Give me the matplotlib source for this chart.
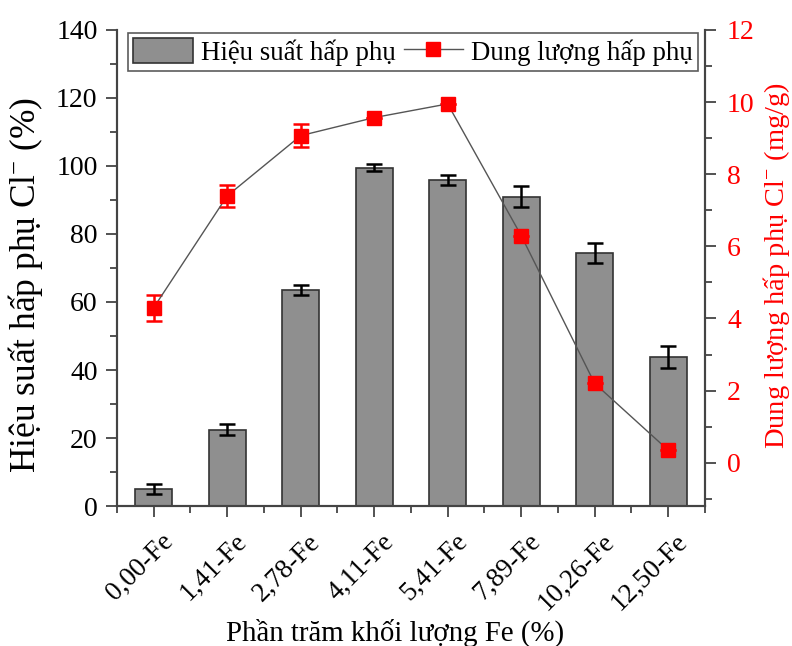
import numpy as np
import matplotlib.pyplot as plt
import matplotlib.transforms as mtransforms
from matplotlib.ticker import MultipleLocator, FixedLocator

plt.rcParams['font.family'] = ['Liberation Serif', 'DejaVu Serif']
plt.rcParams['mathtext.fontset'] = 'custom'
plt.rcParams['mathtext.rm'] = 'Liberation Serif'
plt.rcParams['mathtext.it'] = 'Liberation Serif:italic'

labels = ["0,00-Fe", "1,41-Fe", "2,78-Fe", "4,11-Fe",
          "5,41-Fe", "7,89-Fe", "10,26-Fe", "12,50-Fe"]
efficiency = [5.0, 22.5, 63.5, 99.5, 95.8, 91.0, 74.4, 43.8]
efficiency_err = [1.5, 1.5, 1.5, 1.0, 1.5, 3.0, 3.0, 3.3]
capacity = [4.3, 7.4, 9.07, 9.57, 9.95, 6.3, 2.2, 0.35]
capacity_err = [0.36, 0.3, 0.32, 0.0, 0.0, 0.0, 0.0, 0.0]

axis_col = "#444444"

fig = plt.figure(figsize=(7.92, 6.46), dpi=100)
ax = fig.add_axes([0.1477, 0.2167, 0.7423, 0.7369])
ax2 = ax.twinx()

x = np.arange(len(labels))
bars = ax.bar(x, efficiency, width=0.5, color="#8f8f8f", edgecolor="#333333",
              linewidth=1.2, zorder=2)
ax.errorbar(x, efficiency, yerr=efficiency_err, fmt="none", ecolor="black",
            elinewidth=1.8, capsize=6, capthick=1.8, zorder=3)

ax2.errorbar(x, capacity, yerr=capacity_err, fmt="none", ecolor="red",
             elinewidth=1.8, capsize=6, capthick=1.8, zorder=3)
line, = ax2.plot(x, capacity, color="#555555", linewidth=1.0, marker="s",
                 markersize=10, markerfacecolor="red", markeredgecolor="red",
                 zorder=4)

ax.set_xlim(-0.5, 7.5)
ax.set_ylim(0, 140)
ax2.set_ylim(-1.2, 12)

# rotated category labels, placed like the original (shifted right of tick)
ax.set_xticks(x)
ax.set_xticklabels([])
trans = mtransforms.blended_transform_factory(ax.transData, ax.transAxes)
trans = trans + mtransforms.ScaledTranslation(16 / 100, -32 / 100,
                                              fig.dpi_scale_trans)
for xi, lab in zip(x, labels):
    ax.text(xi, 0, lab, transform=trans, rotation=45, ha="right",
            va="center", rotation_mode="anchor", fontsize=19.5)

ax.xaxis.set_minor_locator(FixedLocator(np.arange(-0.5, 8.0, 1.0)))
ax.yaxis.set_major_locator(MultipleLocator(20))
ax.yaxis.set_minor_locator(MultipleLocator(10))
ax2.yaxis.set_major_locator(FixedLocator([0, 2, 4, 6, 8, 10, 12]))
ax2.yaxis.set_minor_locator(FixedLocator([-1, 1, 3, 5, 7, 9, 11]))

for a in (ax, ax2):
    a.spines["top"].set_visible(False)
    for s in a.spines.values():
        s.set_color(axis_col)
        s.set_linewidth(1.5)
    a.tick_params(which="major", direction="out", length=8, width=1.3,
                  color=axis_col)
    a.tick_params(which="minor", direction="out", length=5, width=1.3,
                  color=axis_col)

ax.tick_params(axis="y", labelsize=20, pad=6)
ax2.tick_params(axis="y", labelsize=20, labelcolor="red", pad=8)

ax.set_ylabel("Hiệu suất hấp phụ Cl$^{\\mathrm{-}}$ (%)", fontsize=25.5)
ax.yaxis.set_label_coords(-0.122, 0.464)
ax2.set_ylabel("Dung lượng hấp phụ Cl$^{\\mathrm{-}}$ (mg/g)", fontsize=20.5,
               color="red")
ax2.yaxis.set_label_coords(1.096, 0.505)
ax.set_xlabel("Phần trăm khối lượng Fe (%)", fontsize=20.8)
ax.xaxis.set_label_coords(0.473, -0.237)

leg = ax.legend([bars, line], ["Hiệu suất hấp phụ", "Dung lượng hấp phụ"],
                ncol=2, loc="upper left", bbox_to_anchor=(0.0187, 0.994),
                fontsize=19.4, frameon=True, fancybox=False, borderpad=0.2,
                handlelength=2.2, handleheight=1.05, handletextpad=0.3,
                columnspacing=0.3, borderaxespad=0.0)
leg.get_frame().set_edgecolor("#333333")
leg.get_frame().set_linewidth(1.2)

fig.savefig("out.png", dpi=100)
